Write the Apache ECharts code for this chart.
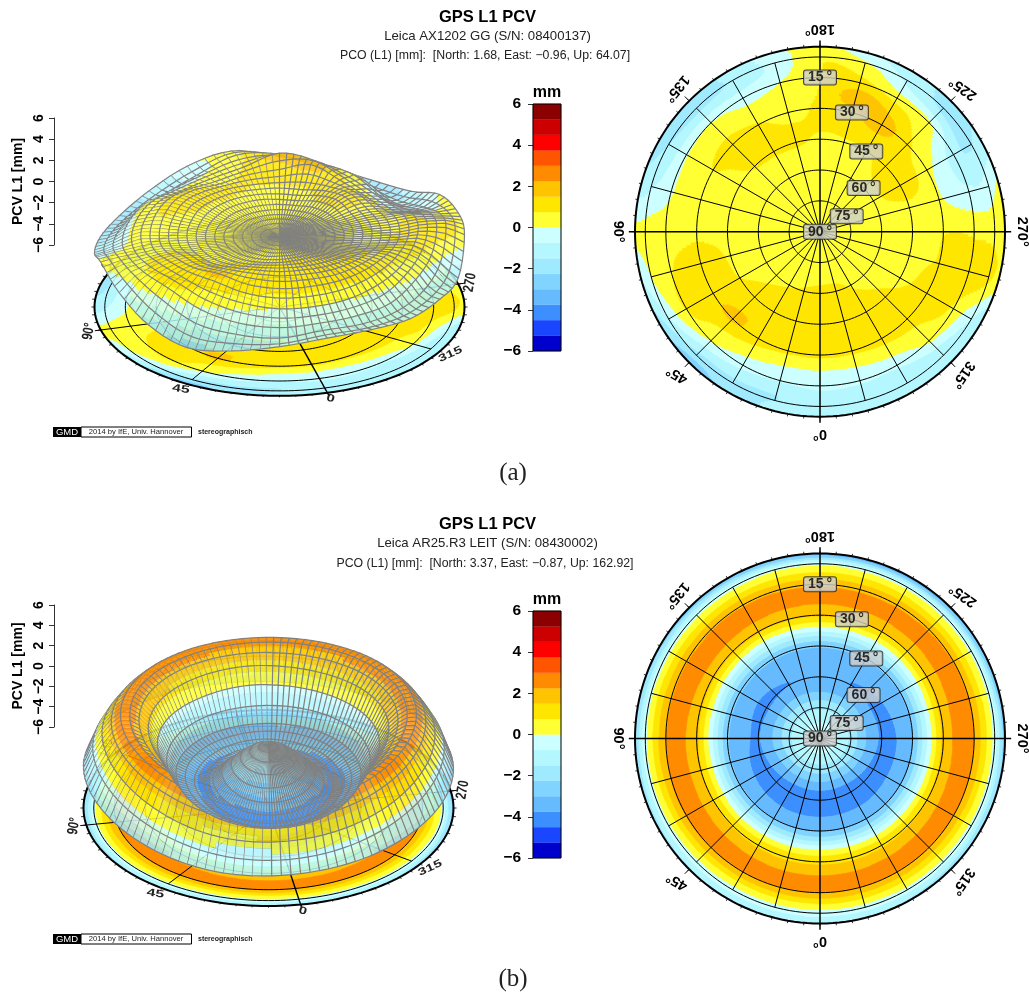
<!DOCTYPE html>
<html><head><meta charset="utf-8"><style>html,body{margin:0;padding:0;background:#fff}#c{width:1029px;height:992px}</style>
<script src="https://cdn.jsdelivr.net/npm/echarts@6/dist/echarts.min.js"></script></head>
<body><div id="c"></div><script>
// ---- data (mm); one row per azimuth, one value per zenith angle ----
const azimuthsA=[0,15,30,45,60,75,90,105,120,135,150,165,180,195,210,225,240,255,270,285,300,315,330,345];
const zenithsA=[0,7.5,15,22.5,30,37.5,45,52.5,60,67.5,75,82.5,90];
const pcvA=[
[.3,.3,.4,.6,.9,1.1,1.3,1.3,.9,0,-.6,-1,-.8],
[.3,.3,.4,.6,.8,1.1,1.3,1.3,.9,0,-.7,-1.5,-1.3],
[.3,.3,.4,.5,.7,1,1.3,1.4,1.1,.3,-.5,-1.5,-2],
[.3,.3,.4,.5,.6,.8,1.1,1.4,1.6,.7,.05,-1.4,-2.6],
[.3,.3,.3,.4,.5,.6,.75,1.1,1.3,1.1,.8,-.4,-1.9],
[.3,.3,.3,.3,.4,.5,.6,1,1.1,1,.7,.3,-.7],
[.2,.3,.3,.3,.3,.4,.4,.5,.6,.5,.4,.3,.1],
[.2,.3,.3,.3,.3,.3,.4,.4,.4,.4,-.1,-.7,-1.2],
[.2,.3,.3,.3,.3,.4,.5,.6,.75,.4,-.1,-1.3,-1.8],
[.2,.3,.3,.3,.3,.5,.8,1,1,.5,-.05,-1.5,-1.9],
[.2,.3,.3,.3,.4,.6,.8,.9,.8,.2,-.3,-1.3,-1.3],
[.2,.2,.3,.3,.4,.6,.8,.8,.5,.3,0,-.5,-.3],
[-.1,.2,.3,.3,.4,.6,.7,.8,.9,.8,.7,.7,.3],
[.1,.2,.3,.3,.4,.5,.7,.9,1.3,1.9,1,.4,-.5],
[.1,.2,.3,.3,.4,.5,.7,1.2,1.9,1.4,.4,-.7,-1.2],
[.2,.3,.3,.3,.5,.8,1,1,.9,.5,.1,-1.5,-1.6],
[.2,.3,.3,.3,.5,.9,1.1,.9,.2,-.3,-1.2,-1.6,-1.3],
[.2,.3,.3,.3,.4,.5,.6,.5,.1,-.3,-.6,-.6,.1],
[.2,.3,.3,.3,.4,.5,.6,.6,.7,.75,.6,.5,.4],
[.2,.3,.3,.3,.4,.5,.6,.7,.8,1.1,1.2,1.1,.5],
[.2,.3,.3,.3,.4,.5,.6,.8,1,1.1,.6,-.4,-1.4],
[.2,.3,.3,.4,.5,.7,.9,1.1,1.1,.6,.1,-1.1,-1.3],
[.3,.3,.3,.5,.7,.9,1.1,1.2,1,.3,-.6,-1.3,-1.3],
[.3,.3,.4,.6,.9,1.1,1.2,1.2,.9,.05,-.6,-1.2,-.9]];
const azimuthsB=[0,30,60,90,120,150,180,210,240,270,300,330];
const zenithsB=[0,5,10,15,20,25,30,35,40,45,50,55,60,65,70,75,80,85,90];
const pcvB=[
[-.3,-.5,-1.1,-1.9,-2.8,-3.73,-4.2,-4.1,-3.55,-3.05,-1.6,.2,1.25,1.95,2.65,2.2,.85,-.4,-1.3],
[-.3,-.5,-1.1,-1.9,-2.8,-3.7,-4.15,-4.1,-3.5,-3,-1.6,.15,1.3,2,2.7,2.2,.8,-.4,-1.5],
[-.3,-.5,-1.05,-1.8,-2.7,-3.5,-4,-3.9,-3.4,-2.95,-1.5,.2,1.5,2.15,2.8,2.3,1,-.3,-1.8],
[-.3,-.5,-1,-1.7,-2.5,-3.3,-3.8,-3.7,-3.3,-2.9,-1.5,.2,1.65,2.2,2.7,2.2,1.1,-.3,-2.2],
[-.3,-.5,-1,-1.7,-2.5,-3.35,-3.85,-3.75,-3.3,-2.9,-1.5,.2,1.7,2.3,2.75,2.1,1,-.4,-2.6],
[-.3,-.5,-1,-1.7,-2.5,-3.35,-3.75,-3.6,-3.25,-2.9,-1.5,.1,1.65,2.25,2.65,2.1,.9,-.4,-3.1],
[-.3,-.5,-1,-1.7,-2.5,-3.4,-3.7,-3.5,-3.2,-2.9,-1.5,.2,1.6,2.2,2.65,2,.9,-.4,-3.5],
[-.3,-.5,-1,-1.7,-2.5,-3.4,-3.75,-3.6,-3.2,-2.9,-1.5,.1,1.5,2.2,2.7,2,.9,-.5,-3.6],
[-.3,-.5,-1,-1.7,-2.6,-3.4,-3.85,-3.75,-3.3,-2.95,-1.5,.1,1.6,2.25,2.75,2.15,.9,-.4,-3.2],
[-.3,-.5,-1,-1.7,-2.6,-3.4,-3.85,-3.9,-3.5,-3,-1.5,.2,1.7,2.3,2.75,2.2,1,-.4,-2.7],
[-.3,-.5,-1.05,-1.8,-2.7,-3.55,-4,-3.95,-3.5,-3,-1.5,.15,1.5,2.15,2.75,2.2,.9,-.4,-2.3],
[-.3,-.5,-1.1,-1.9,-2.8,-3.7,-4.15,-4.1,-3.55,-3.05,-1.6,.15,1.3,2,2.7,2.2,.85,-.4,-1.7]];
const bandColors=['#0000CC','#1A46FF','#3D8FFF','#66BBFF','#80D4FF','#A0EAFF','#B4F7FF','#CCFFFF','#FFFF33','#FFE600','#FFC400','#FF8C00','#FF5500','#FF0000','#CC0000','#8B0000'];
const bandEdges=[-6,-5.25,-4.5,-3.75,-3,-2.25,-1.5,-.75,0,.75,1.5,2.25,3,3.75,4.5,5.25,6];
const ringZeniths=[15,30,45,60,75,85,90];
const ringLabels=[[15,180,'15'],[30,195,'30'],[45,210,'45'],[60,225,'60'],[75,240,'75'],[90,0,'90']];
const outerLabels=[[0,'0°',180],[45,'45°',210],[90,'90°',90],[135,'135°',130],[180,'180°',180],[225,'225°',215],[270,'270°',90],[315,'315°',125]];
const discLabels=[[0,'0',-15,1,.7],[45,'45',-8,1.05,.7],[90,'90°',80,.75,1],[135,'135',80,.75,1],[270,'270',80,.75,1],[315,'315',25,1,.7]];
const titlesA=['GPS L1 PCV','Leica AX1202 GG (S/N: 08400137)','PCO (L1) [mm]:  [North: 1.68, East: −0.96, Up: 64.07]'];
const titlesB=['GPS L1 PCV','Leica AR25.R3 LEIT (S/N: 08430002)','PCO (L1) [mm]:  [North: 3.37, East: −0.87, Up: 162.92]'];

// ---- layout of the two panels ----
const panelA={az:azimuthsA,zen:zenithsA,pcv:pcvA,polar:[820,231.7],bar:[104,247],axis:[118,127],top:0,
  view:{cx:279.5,cy:307,k:.48,rot:15,lift:67,zs:10.67,front:4},titles:titlesA,caption:'(a)',captionY:473,gmdY:427};
const panelB={az:azimuthsB,zen:zenithsB,pcv:pcvB,polar:[820,738.5],bar:[611,247],axis:[605,122],top:507,
  view:{cx:268.5,cy:808,k:.53,rot:10,lift:66,zs:10.5,front:22},titles:titlesB,caption:'(b)',captionY:979,gmdY:934};
const R=185, PX=R/90, SANS='"Liberation Sans",Arial,sans-serif';

function catmull(p0,p1,p2,p3,t){return .5*((2*p1)+(-p0+p2)*t+(2*p0-5*p1+4*p2-p3)*t*t+(-p0+3*p1-3*p2+p3)*t*t*t);}
function sampler(panel){
  const na=panel.az.length,nz=panel.zen.length,da=360/na,dz=90/(nz-1),P=panel.pcv;
  const rowAt=(i,t)=>{const a=P[(i%na+na)%na];const g=j=>a[Math.max(0,Math.min(nz-1,j))];const j=Math.min(nz-2,Math.floor(t));return catmull(g(j-1),g(j),g(j+1),g(j+2),t-j);};
  return (az,zen)=>{const u=((az%360)+360)%360/da,v=zen/dz,i=Math.floor(u);
    return catmull(rowAt(i-1,v),rowAt(i,v),rowAt(i+1,v),rowAt(i+2,v),u-i);};
}
const bandOf=v=>Math.max(0,Math.min(15,Math.floor((v+6)/.75)));
const fmt=n=>n.toFixed(2);
const quad=(a,b,c,d)=>`M${fmt(a[0])} ${fmt(a[1])}L${fmt(b[0])} ${fmt(b[1])}L${fmt(c[0])} ${fmt(c[1])}L${fmt(d[0])} ${fmt(d[1])}Z`;

// filled contour bands; vertex(zenith, azimuth) goes through the coordinate system
function contourPaths(f,vertex){
  const out=bandColors.map(()=>[]);const zs=.25;
  for(let a=0;a<360;a+=1){
    let start=0,cur=bandOf(f(a+.5,zs/2));
    for(let k=1;k<=360;k++){
      const z=k*zs;const b=k<360?bandOf(f(a+.5,z+zs/2)):-1;
      if(b!==cur){out[cur].push(quad(vertex(start,a),vertex(z,a),vertex(z,a+1),vertex(start,a+1)));start=z;cur=b;}
    }
  }
  return out.map(x=>x.join(''));
}
function contourSeries(panel,coordOpts,makeVertex){
  const f=sampler(panel);let cache=null;
  return Object.assign({type:'custom',silent:true,animation:false,z:2,clip:false,
    data:bandColors.map((c,i)=>[0,0,i]),
    renderItem:(p,api)=>{if(!cache)cache=contourPaths(f,makeVertex(api));
      const i=api.value(2);if(!cache[i])return null;
      return {type:'path',shape:{pathData:cache[i]},style:{fill:bandColors[i],stroke:bandColors[i],lineWidth:.6}};}
  },coordOpts);
}
function lineEl(pts,w){return {type:'polyline',shape:{points:pts},style:{fill:null,stroke:'#000',lineWidth:w}};}

// ---- right polar chart ----
function polarSeries(panel,idx){
  const coord={coordinateSystem:'polar',polarIndex:idx};
  return [
    contourSeries(panel,coord,api=>(z,a)=>api.coord([z,a])),
    Object.assign({type:'custom',silent:true,animation:false,z:3,clip:false,data:[[0,0]],
      renderItem:(p,api)=>{
        const kids=[];
        ringZeniths.forEach(z=>{const pts=[];for(let a=0;a<=360;a+=2)pts.push(api.coord([z,a]));kids.push(lineEl(pts,z===90?2:1));});
        for(let a=0;a<360;a+=15){
          const card=a%90===0;
          kids.push(lineEl([api.coord([1,a]),api.coord([card?93:85,a])],card?1.5:1));
          if(!card&&a%45===0)kids.push(lineEl([api.coord([90,a]),api.coord([93,a])],1));
        }
        outerLabels.forEach(l=>{const q=api.coord([98.4,l[0]]);
          kids.push({type:'text',x:q[0],y:q[1],rotation:-l[2]*Math.PI/180,
            style:{text:l[1],fontFamily:SANS,fontWeight:'bold',fontSize:14.5,fill:'#000',align:'center',verticalAlign:'middle'}});});
        return {type:'group',children:kids};}
    },coord),
    Object.assign({type:'scatter',silent:true,animation:false,z:5,symbolSize:1,itemStyle:{color:'transparent'},
      data:ringLabels.map(l=>({value:[l[0]===90?0:90-l[0],l[1]],name:l[2]+'\u2009°'})),
      label:{show:true,position:'inside',formatter:'{b}',fontFamily:SANS,fontWeight:'bold',fontSize:14,color:'#000',
        backgroundColor:'#CFCFCF',borderColor:'#222',borderWidth:1,borderRadius:2,width:26,height:12,verticalAlign:'middle',align:'center',padding:[1,3],lineHeight:14}
    },coord)
  ];
}

// ---- left 3D view: a tilted projection of the same (azimuth, zenith, value) grid ----
function project(v,az,zen,val){
  const r=zen*PX,t=(az-v.rot)*Math.PI/180,d=r*Math.cos(t);
  if(val==null)return [v.cx-r*Math.sin(t),v.cy+v.k*d];
  const near=Math.max(0,d/R);
  return [v.cx-r*Math.sin(t),v.cy+v.k*d-v.lift-v.zs*val+v.front*near*near];
}
function viewSeries(panel){
  const v=panel.view,f=sampler(panel);
  const coord={coordinateSystem:'cartesian2d',xAxisIndex:0,yAxisIndex:0};
  return [
    contourSeries(panel,coord,api=>(z,a)=>{return api.coord(project(v,a,z));}),
    Object.assign({type:'custom',silent:true,animation:false,z:3,clip:false,data:[[0,0]],
      renderItem:(p,api)=>{
        const kids=[];
        ringZeniths.forEach(z=>{const pts=[];for(let a=0;a<=360;a+=2)pts.push(api.coord(project(v,a,z)));kids.push(lineEl(pts,z===90?2:1));});
        for(let a=0;a<360;a+=45)kids.push(lineEl([api.coord(project(v,a,1)),api.coord(project(v,a,a%90===0?93:85))],a===0?1.4:1));
        for(let a=0;a<360;a+=5)kids.push(lineEl([api.coord(project(v,a,90)),api.coord(project(v,a,91.5))],.8));
        discLabels.forEach(l=>{
          const q=api.coord(project(v,l[0],96));
          kids.push({type:'text',x:q[0],y:q[1],rotation:l[2]*Math.PI/180,scaleX:l[3],scaleY:l[4],
            style:{text:l[1],fontFamily:SANS,fontWeight:'bold',fontSize:15,fill:'#222',align:'center',verticalAlign:'middle'}});});
        return {type:'group',children:kids};}
    },coord),
    Object.assign({type:'custom',silent:true,animation:false,z:4,clip:false,data:[[0,0]],
      renderItem:(p,api)=>{
        const patches=[];const da=3,dz=4.5,na=3,nz=3;
        const V=(a,z)=>api.coord(project(v,a,z,f(a,z)));
        for(let a=0;a<360;a+=da)for(let z=0;z<90-1e-6;z+=dz){
          const t=(a+da/2-v.rot)*Math.PI/180;
          patches.push({a,z,d:(z+dz/2)*Math.cos(t)});
        }
        patches.sort((x,y)=>(y.z-x.z)||(x.d-y.d));
        const kids=[];
        patches.forEach(q=>{
          const by={};
          for(let i=0;i<na;i++)for(let j=0;j<nz;j++){
            const a0=q.a+i*da/na,a1=a0+da/na,z0=q.z+j*dz/nz,z1=z0+dz/nz;
            const b=bandOf(f((a0+a1)/2,(z0+z1)/2));
            (by[b]=by[b]||[]).push(quad(V(a0,z0),V(a0,z1),V(a1,z1),V(a1,z0)));
          }
          Object.keys(by).forEach(b=>kids.push({type:'path',shape:{pathData:by[b].join('')},style:{fill:bandColors[b],opacity:.85}}));
          const pts=[V(q.a,q.z),V(q.a,q.z+dz),V(q.a+da,q.z+dz)];
          kids.push({type:'polyline',shape:{points:pts},style:{fill:null,stroke:'#808080',lineWidth:1.2}});
          if(q.z<dz)kids.push({type:'polyline',shape:{points:[V(q.a,q.z),V(q.a+da,q.z)]},style:{fill:null,stroke:'#808080',lineWidth:1.2}});
        });
        return {type:'group',children:kids};}
    },coord)
  ];
}
function barSeries(xi){
  return {type:'custom',silent:true,animation:false,z:3,clip:false,xAxisIndex:xi,yAxisIndex:xi,coordinateSystem:'cartesian2d',
    data:bandColors.map((c,i)=>[0,bandEdges[i],i]),
    renderItem:(p,api)=>{const i=api.value(2);const a=api.coord([0,bandEdges[i+1]]),b=api.coord([1,bandEdges[i]]);
      return {type:'group',children:[{type:'rect',shape:{x:a[0],y:a[1],width:b[0]-a[0],height:b[1]-a[1]},style:{fill:bandColors[i],stroke:bandColors[i],lineWidth:.3}},
        ...(i===15?[{type:'rect',z2:9,shape:(()=>{const t=api.coord([0,6]),u=api.coord([1,-6]);return {x:t[0],y:t[1],width:u[0]-t[0],height:u[1]-t[1]};})(),style:{fill:null,stroke:'#000',lineWidth:1}}]:[])]};}};
}

const minus=v=>String(v).replace('-','−');
const grids=[{left:0,top:0,width:1029,height:992,show:false}],xAxes=[{type:'value',min:0,max:1029,show:false}],yAxes=[{type:'value',min:0,max:992,inverse:true,show:false}];
const series=[],polars=[],angles=[],radii=[],titles=[],graphics=[];
[panelA,panelB].forEach((pn,n)=>{
  polars.push({center:pn.polar,radius:R});
  angles.push({polarIndex:n,type:'value',min:0,max:360,startAngle:270,clockwise:true,interval:5,axisLabel:{show:false},splitLine:{show:false},
    axisLine:{show:false},axisTick:{show:true,length:2.5,lineStyle:{color:'#000',width:.8}}});
  radii.push({polarIndex:n,type:'value',min:0,max:90,axisLabel:{show:false},axisLine:{show:false},axisTick:{show:false},splitLine:{show:false}});
  // PCV scale
  grids.push({left:54,top:pn.axis[0],width:2,height:pn.axis[1],show:false});
  xAxes.push({type:'value',gridIndex:grids.length-1,min:0,max:1,show:false});
  yAxes.push({type:'value',gridIndex:grids.length-1,min:-6,max:6,interval:2,position:'left',
    name:'PCV L1 [mm]',nameLocation:'middle',nameGap:29,nameRotate:90,nameTextStyle:{fontFamily:SANS,fontWeight:'bold',fontSize:14,color:'#000'},
    axisLine:{show:true,onZero:false,lineStyle:{color:'#333',width:1}},axisTick:{show:true,length:5,lineStyle:{color:'#333'}},splitLine:{show:false},
    axisLabel:{rotate:90,margin:8,fontFamily:SANS,fontWeight:'bold',fontSize:14,color:'#000',formatter:minus}});
  // colour scale
  grids.push({left:533,top:pn.bar[0],width:28,height:pn.bar[1],show:false});
  xAxes.push({type:'value',gridIndex:grids.length-1,min:0,max:1,show:false});
  yAxes.push({type:'value',gridIndex:grids.length-1,min:-6,max:6,interval:2,position:'left',
    axisLine:{show:false},axisTick:{show:true,length:5,lineStyle:{color:'#333'}},splitLine:{show:false},
    axisLabel:{margin:12,fontFamily:SANS,fontWeight:'bold',fontSize:15.5,color:'#000',formatter:minus}});
  series.push(barSeries(grids.length-1));
  series.push(...viewSeries(pn),...polarSeries(pn,n));
  const T=pn.top;
  titles.push({text:pn.titles[0],left:487.5,top:T+9,padding:0,textAlign:'center',textStyle:{fontFamily:SANS,fontWeight:'bold',fontSize:16.5,color:'#000'}});
  titles.push({text:pn.titles[1],left:487.5,top:T+29.5,padding:0,textAlign:'center',textStyle:{fontFamily:SANS,fontWeight:'normal',fontSize:13.2,color:'#222'}});
  titles.push({text:pn.titles[2],left:485,top:T+49.5+n,padding:0,textAlign:'center',textStyle:{fontFamily:SANS,fontWeight:'normal',fontSize:12.3,color:'#222'}});
  titles.push({text:'mm',left:547,top:pn.bar[0]-19,padding:0,textAlign:'center',textStyle:{fontFamily:SANS,fontWeight:'bold',fontSize:16,color:'#000'}});
  titles.push({text:pn.caption,left:513,top:pn.captionY-12,padding:0,textAlign:'center',textStyle:{fontFamily:'"Liberation Serif",serif',fontWeight:'normal',fontSize:25,color:'#222'}});
  const g=pn.gmdY;
  graphics.push({type:'rect',x:53,y:g,shape:{width:28,height:10},style:{fill:'#000'}});
  graphics.push({type:'rect',x:81,y:g,shape:{width:110.5,height:10},style:{fill:'#fff',stroke:'#000',lineWidth:1}});
  graphics.push({type:'text',x:67,y:g+5,style:{text:'GMD',fill:'#fff',fontFamily:SANS,fontSize:9.5,align:'center',verticalAlign:'middle'}});
  graphics.push({type:'text',x:136,y:g+5,style:{text:'2014 by IfE, Univ. Hannover',fill:'#222',fontFamily:SANS,fontSize:7.6,align:'center',verticalAlign:'middle'}});
  graphics.push({type:'text',x:198,y:g+5,style:{text:'stereographisch',fill:'#222',fontFamily:SANS,fontWeight:'bold',fontSize:7,align:'left',verticalAlign:'middle'}});
});
const chart=echarts.init(document.getElementById('c'),null,{renderer:'canvas'});
chart.setOption({animation:false,backgroundColor:'#fff',title:titles,grid:grids,xAxis:xAxes,yAxis:yAxes,polar:polars,angleAxis:angles,radiusAxis:radii,
  graphic:graphics,series:series});
</script></body></html>
